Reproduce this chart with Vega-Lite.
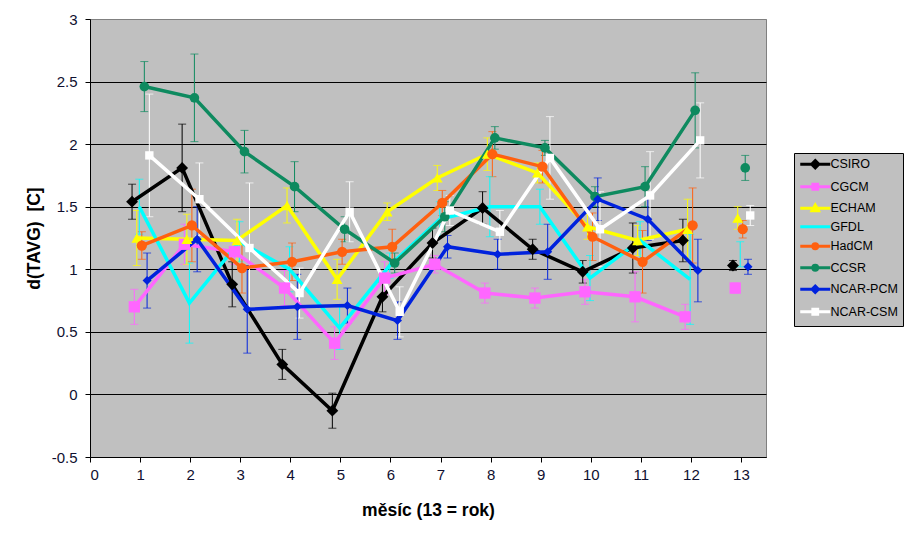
{
  "$schema": "https://vega.github.io/schema/vega-lite/v6.json",
  "autosize": {"type": "none"},
  "padding": {"left": 90, "top": 19, "right": 147, "bottom": 83},
  "width": 676,
  "height": 438,
  "background": "#FFFFFF",
  "config": {
    "font": "Liberation Sans",
    "view": {"fill": "#C0C0C0", "stroke": "#808080", "strokeWidth": 1},
    "axis": {"labelFont": "Liberation Sans", "titleFont": "Liberation Sans", "labelColor": "#101030", "titleColor": "#000000", "domainColor": "#000000", "tickColor": "#000000", "labelFontSize": 15, "titleFontSize": 17.5, "titleFontWeight": "bold", "tickSize": 5}
  },
  "data": {"values": [
    {"series":"CSIRO","month":1,"x":0.84,"v":1.54,"e":0.14},
    {"series":"CSIRO","month":2,"x":1.84,"v":1.81,"e":0.35},
    {"series":"CSIRO","month":3,"x":2.84,"v":0.88,"e":0.18},
    {"series":"CSIRO","month":4,"x":3.84,"v":0.24,"e":0.12},
    {"series":"CSIRO","month":5,"x":4.84,"v":-0.13,"e":0.14},
    {"series":"CSIRO","month":6,"x":5.84,"v":0.78,"e":0.12},
    {"series":"CSIRO","month":7,"x":6.84,"v":1.21,"e":0.12},
    {"series":"CSIRO","month":8,"x":7.84,"v":1.49,"e":0.13},
    {"series":"CSIRO","month":9,"x":8.84,"v":1.16,"e":0.08},
    {"series":"CSIRO","month":10,"x":9.84,"v":0.98,"e":0.09},
    {"series":"CSIRO","month":11,"x":10.84,"v":1.17,"e":0.2},
    {"series":"CSIRO","month":12,"x":11.84,"v":1.23,"e":0.17},
    {"series":"CSIRO","month":13,"x":12.84,"v":1.03,"e":0.04},
    {"series":"CGCM","month":1,"x":0.885,"v":0.70,"e":0.14},
    {"series":"CGCM","month":2,"x":1.885,"v":1.20,"e":0.16},
    {"series":"CGCM","month":3,"x":2.885,"v":1.14,"e":0.1},
    {"series":"CGCM","month":4,"x":3.885,"v":0.85,"e":0.14},
    {"series":"CGCM","month":5,"x":4.885,"v":0.41,"e":0.13},
    {"series":"CGCM","month":6,"x":5.885,"v":0.93,"e":0.13},
    {"series":"CGCM","month":7,"x":6.885,"v":1.04,"e":0.07},
    {"series":"CGCM","month":8,"x":7.885,"v":0.81,"e":0.08},
    {"series":"CGCM","month":9,"x":8.885,"v":0.77,"e":0.08},
    {"series":"CGCM","month":10,"x":9.885,"v":0.82,"e":0.1},
    {"series":"CGCM","month":11,"x":10.885,"v":0.78,"e":0.2},
    {"series":"CGCM","month":12,"x":11.885,"v":0.62,"e":0.1},
    {"series":"CGCM","month":13,"x":12.885,"v":0.85,"e":0.04},
    {"series":"ECHAM","month":1,"x":0.935,"v":1.25,"e":0.22},
    {"series":"ECHAM","month":2,"x":1.935,"v":1.24,"e":0.2},
    {"series":"ECHAM","month":3,"x":2.935,"v":1.23,"e":0.17},
    {"series":"ECHAM","month":4,"x":3.935,"v":1.51,"e":0.14},
    {"series":"ECHAM","month":5,"x":4.935,"v":0.92,"e":0.16},
    {"series":"ECHAM","month":6,"x":5.935,"v":1.46,"e":0.07},
    {"series":"ECHAM","month":7,"x":6.935,"v":1.73,"e":0.1},
    {"series":"ECHAM","month":8,"x":7.935,"v":1.92,"e":0.13},
    {"series":"ECHAM","month":9,"x":8.935,"v":1.77,"e":0.08},
    {"series":"ECHAM","month":10,"x":9.935,"v":1.34,"e":0.1},
    {"series":"ECHAM","month":11,"x":10.935,"v":1.23,"e":0.12},
    {"series":"ECHAM","month":12,"x":11.935,"v":1.32,"e":0.24},
    {"series":"ECHAM","month":13,"x":12.935,"v":1.41,"e":0.09},
    {"series":"GFDL","month":1,"x":0.985,"v":1.50,"e":0.22},
    {"series":"GFDL","month":2,"x":1.985,"v":0.73,"e":0.32},
    {"series":"GFDL","month":3,"x":2.985,"v":1.22,"e":0.16},
    {"series":"GFDL","month":4,"x":3.985,"v":1.00,"e":0.18},
    {"series":"GFDL","month":5,"x":4.985,"v":0.53,"e":0.17},
    {"series":"GFDL","month":6,"x":5.985,"v":1.03,"e":0.1},
    {"series":"GFDL","month":7,"x":6.985,"v":1.40,"e":0.14},
    {"series":"GFDL","month":8,"x":7.985,"v":1.50,"e":0.24},
    {"series":"GFDL","month":9,"x":8.985,"v":1.50,"e":0.14},
    {"series":"GFDL","month":10,"x":9.985,"v":0.93,"e":0.18},
    {"series":"GFDL","month":11,"x":10.985,"v":1.23,"e":0.15},
    {"series":"GFDL","month":12,"x":11.985,"v":0.92,"e":0.36},
    {"series":"GFDL","month":13,"x":12.985,"v":1.12,"e":0.1},
    {"series":"HadCM","month":1,"x":1.035,"v":1.19,"e":0.11},
    {"series":"HadCM","month":2,"x":2.035,"v":1.35,"e":0.29},
    {"series":"HadCM","month":3,"x":3.035,"v":1.01,"e":0.2},
    {"series":"HadCM","month":4,"x":4.035,"v":1.06,"e":0.15},
    {"series":"HadCM","month":5,"x":5.035,"v":1.14,"e":0.1},
    {"series":"HadCM","month":6,"x":6.035,"v":1.18,"e":0.14},
    {"series":"HadCM","month":7,"x":7.035,"v":1.53,"e":0.1},
    {"series":"HadCM","month":8,"x":8.035,"v":1.92,"e":0.18},
    {"series":"HadCM","month":9,"x":9.035,"v":1.82,"e":0.13},
    {"series":"HadCM","month":10,"x":10.035,"v":1.26,"e":0.19},
    {"series":"HadCM","month":11,"x":11.035,"v":1.06,"e":0.25},
    {"series":"HadCM","month":12,"x":12.035,"v":1.35,"e":0.3},
    {"series":"HadCM","month":13,"x":13.035,"v":1.32,"e":0.07},
    {"series":"CCSR","month":1,"x":1.085,"v":2.46,"e":0.2},
    {"series":"CCSR","month":2,"x":2.085,"v":2.37,"e":0.35},
    {"series":"CCSR","month":3,"x":3.085,"v":1.94,"e":0.17},
    {"series":"CCSR","month":4,"x":4.085,"v":1.66,"e":0.2},
    {"series":"CCSR","month":5,"x":5.085,"v":1.32,"e":0.1},
    {"series":"CCSR","month":6,"x":6.085,"v":1.05,"e":0.08},
    {"series":"CCSR","month":7,"x":7.085,"v":1.42,"e":0.12},
    {"series":"CCSR","month":8,"x":8.085,"v":2.05,"e":0.09},
    {"series":"CCSR","month":9,"x":9.085,"v":1.97,"e":0.06},
    {"series":"CCSR","month":10,"x":10.085,"v":1.58,"e":0.08},
    {"series":"CCSR","month":11,"x":11.085,"v":1.66,"e":0.16},
    {"series":"CCSR","month":12,"x":12.085,"v":2.27,"e":0.3},
    {"series":"CCSR","month":13,"x":13.085,"v":1.81,"e":0.1},
    {"series":"NCAR-PCM","month":1,"x":1.14,"v":0.91,"e":0.22},
    {"series":"NCAR-PCM","month":2,"x":2.14,"v":1.24,"e":0.26},
    {"series":"NCAR-PCM","month":3,"x":3.14,"v":0.68,"e":0.35},
    {"series":"NCAR-PCM","month":4,"x":4.14,"v":0.70,"e":0.26},
    {"series":"NCAR-PCM","month":5,"x":5.14,"v":0.71,"e":0.14},
    {"series":"NCAR-PCM","month":6,"x":6.14,"v":0.59,"e":0.15},
    {"series":"NCAR-PCM","month":7,"x":7.14,"v":1.18,"e":0.09},
    {"series":"NCAR-PCM","month":8,"x":8.14,"v":1.12,"e":0.12},
    {"series":"NCAR-PCM","month":9,"x":9.14,"v":1.14,"e":0.22},
    {"series":"NCAR-PCM","month":10,"x":10.14,"v":1.56,"e":0.17},
    {"series":"NCAR-PCM","month":11,"x":11.14,"v":1.40,"e":0.17},
    {"series":"NCAR-PCM","month":12,"x":12.14,"v":0.99,"e":0.25},
    {"series":"NCAR-PCM","month":13,"x":13.14,"v":1.02,"e":0.06},
    {"series":"NCAR-CSM","month":1,"x":1.185,"v":1.91,"e":0.49},
    {"series":"NCAR-CSM","month":2,"x":2.185,"v":1.56,"e":0.29},
    {"series":"NCAR-CSM","month":3,"x":3.185,"v":1.17,"e":0.52},
    {"series":"NCAR-CSM","month":4,"x":4.185,"v":0.81,"e":0.2},
    {"series":"NCAR-CSM","month":5,"x":5.185,"v":1.46,"e":0.24},
    {"series":"NCAR-CSM","month":6,"x":6.185,"v":0.66,"e":0.2},
    {"series":"NCAR-CSM","month":7,"x":7.185,"v":1.47,"e":0.12},
    {"series":"NCAR-CSM","month":8,"x":8.185,"v":1.30,"e":0.17},
    {"series":"NCAR-CSM","month":9,"x":9.185,"v":1.89,"e":0.33},
    {"series":"NCAR-CSM","month":10,"x":10.185,"v":1.32,"e":0.3},
    {"series":"NCAR-CSM","month":11,"x":11.185,"v":1.59,"e":0.35},
    {"series":"NCAR-CSM","month":12,"x":12.185,"v":2.03,"e":0.3},
    {"series":"NCAR-CSM","month":13,"x":13.185,"v":1.43,"e":0.08}
  ]},
  "encoding": {
    "x": {"field": "x", "type": "quantitative",
      "scale": {"domain": [0, 13.5], "nice": false, "zero": false},
      "axis": {"title": "měsíc (13 = rok)", "values": [0,1,2,3,4,5,6,7,8,9,10,11,12,13], "format": "d", "grid": false, "labelPadding": 5, "titlePadding": 19}},
    "y": {"field": "v", "type": "quantitative",
      "scale": {"domain": [-0.5, 3], "nice": false, "zero": false},
      "axis": {"title": "d(TAVG)\u00a0 [C]", "values": [-0.5,0,0.5,1,1.5,2,2.5,3], "labelExpr": "'' + datum.value", "grid": true, "gridColor": {"condition": {"test": "datum.value >= 3", "value": "#808080"}, "value": "#000000"}, "gridWidth": 1, "labelPadding": 8, "titlePadding": 8}},
    "color": {"field": "series", "type": "nominal",
      "scale": {"domain": ["CSIRO","CGCM","ECHAM","GFDL","HadCM","CCSR","NCAR-PCM","NCAR-CSM"],
                "range": ["#000000","#FF66FF","#FFFF00","#00FFFF","#FF6010","#0E8A5F","#0022DD","#FFFFFF"]},
      "legend": {
        "title": null, "orient": "none", "legendX": 704, "legendY": 134,
        "fillColor": "#C0C0C0", "strokeColor": "#000000", "padding": 5,
        "symbolOffset": 10, "labelOffset": 9, "rowPadding": 3.5,
        "labelFont": "Liberation Sans", "labelFontSize": 12.5, "labelColor": "#000000",
        "symbolSize": 64, "symbolStrokeWidth": 3,
        "encode": {"symbols": {"update": {
          "shape": {"signal": "datum.value === 'CSIRO' ? 'M-3.75,0L3.75,0M0,-0.9L0.9,0L0,0.9L-0.9,0Z' : datum.value === 'CGCM' ? 'M-3.75,0L3.75,0M-0.6,-0.6L0.6,-0.6L0.6,0.6L-0.6,0.6Z' : datum.value === 'ECHAM' ? 'M-3.75,0L3.75,0M0,-0.8L0.8,0.6L-0.8,0.6Z' : datum.value === 'GFDL' ? 'M-3.75,0L3.75,0' : datum.value === 'HadCM' || datum.value === 'CCSR' ? 'M-3.75,0L3.75,0M-0.6,0A0.6,0.6 0 1,0 0.6,0A0.6,0.6 0 1,0 -0.6,0Z' : datum.value === 'NCAR-PCM' ? 'M-3.75,0L3.75,0M0,-0.8L0.8,0L0,0.8L-0.8,0Z' : 'M-3.75,0L3.75,0M-0.6,-0.6L0.6,-0.6L0.6,0.6L-0.6,0.6Z'"},
          "fill": {"scale": "color", "field": "value"},
          "stroke": {"scale": "color", "field": "value"},
          "strokeWidth": {"value": 3},
          "opacity": {"value": 1},
          "fillOpacity": {"value": 1},
          "strokeOpacity": {"value": 1}
        }}}
      }}
  },
  "layer": [
    {
      "mark": {"type": "errorbar", "ticks": {"size": 8, "thickness": 1}, "thickness": 1},
      "encoding": {"yError": {"field": "e"}}
    },
    {
      "transform": [{"filter": "datum.month <= 12"}],
      "mark": {"type": "line", "strokeWidth": 3.5}
    },
    {
      "transform": [{"filter": "datum.series !== 'GFDL'"}],
      "mark": {"type": "point", "filled": true, "opacity": 1},
      "encoding": {
        "shape": {"field": "series", "type": "nominal",
          "scale": {"domain": ["CSIRO","CGCM","ECHAM","HadCM","CCSR","NCAR-PCM","NCAR-CSM"], "range": ["diamond","square","triangle-up","circle","circle","diamond","square"]},
          "legend": null},
        "size": {"field": "series", "type": "nominal",
          "scale": {"domain": ["CSIRO","CGCM","ECHAM","HadCM","CCSR","NCAR-PCM","NCAR-CSM"], "range": [140, 70, 90, 55, 55, 100, 80]},
          "legend": null}
      }
    }
  ]
}
